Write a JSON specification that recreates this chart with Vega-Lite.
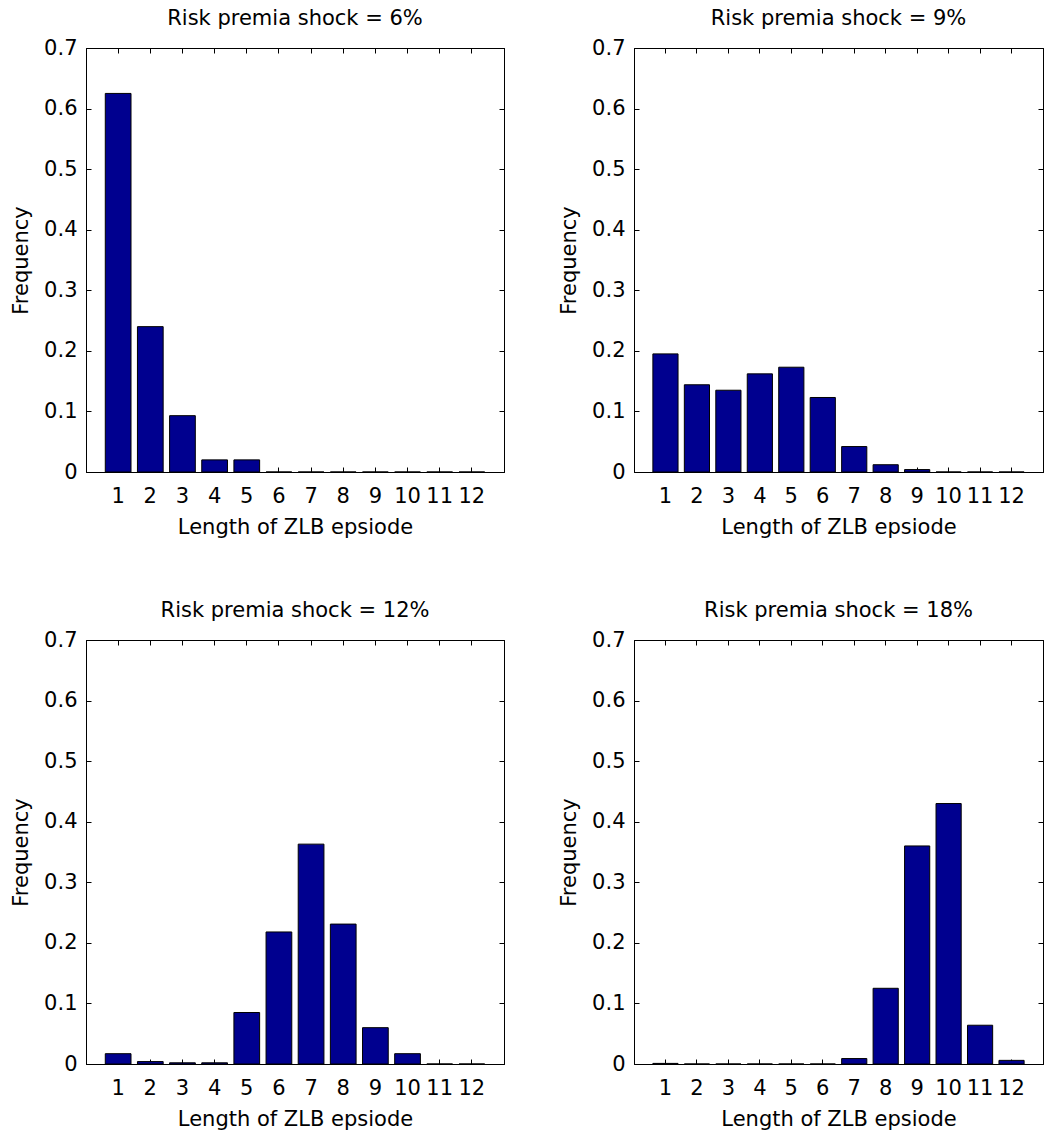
{
  "$schema": "https://vega.github.io/schema/vega-lite/v6.json",
  "background": "white",
  "padding": {"left": 10, "top": 7, "right": 0, "bottom": 0},
  "datasets": {
    "zlb": [
      {"shock": 6, "length": 1, "freq": 0.625},
      {"shock": 6, "length": 2, "freq": 0.24},
      {"shock": 6, "length": 3, "freq": 0.093},
      {"shock": 6, "length": 4, "freq": 0.02},
      {"shock": 6, "length": 5, "freq": 0.02},
      {"shock": 6, "length": 6, "freq": 0},
      {"shock": 6, "length": 7, "freq": 0},
      {"shock": 6, "length": 8, "freq": 0},
      {"shock": 6, "length": 9, "freq": 0},
      {"shock": 6, "length": 10, "freq": 0},
      {"shock": 6, "length": 11, "freq": 0},
      {"shock": 6, "length": 12, "freq": 0},
      {"shock": 9, "length": 1, "freq": 0.195},
      {"shock": 9, "length": 2, "freq": 0.144},
      {"shock": 9, "length": 3, "freq": 0.135},
      {"shock": 9, "length": 4, "freq": 0.162},
      {"shock": 9, "length": 5, "freq": 0.173},
      {"shock": 9, "length": 6, "freq": 0.123},
      {"shock": 9, "length": 7, "freq": 0.042},
      {"shock": 9, "length": 8, "freq": 0.012},
      {"shock": 9, "length": 9, "freq": 0.004},
      {"shock": 9, "length": 10, "freq": 0},
      {"shock": 9, "length": 11, "freq": 0},
      {"shock": 9, "length": 12, "freq": 0},
      {"shock": 12, "length": 1, "freq": 0.017},
      {"shock": 12, "length": 2, "freq": 0.004},
      {"shock": 12, "length": 3, "freq": 0.002},
      {"shock": 12, "length": 4, "freq": 0.002},
      {"shock": 12, "length": 5, "freq": 0.085},
      {"shock": 12, "length": 6, "freq": 0.218},
      {"shock": 12, "length": 7, "freq": 0.363},
      {"shock": 12, "length": 8, "freq": 0.231},
      {"shock": 12, "length": 9, "freq": 0.06},
      {"shock": 12, "length": 10, "freq": 0.017},
      {"shock": 12, "length": 11, "freq": 0},
      {"shock": 12, "length": 12, "freq": 0},
      {"shock": 18, "length": 1, "freq": 0.001},
      {"shock": 18, "length": 2, "freq": 0},
      {"shock": 18, "length": 3, "freq": 0},
      {"shock": 18, "length": 4, "freq": 0},
      {"shock": 18, "length": 5, "freq": 0},
      {"shock": 18, "length": 6, "freq": 0},
      {"shock": 18, "length": 7, "freq": 0.009},
      {"shock": 18, "length": 8, "freq": 0.125},
      {"shock": 18, "length": 9, "freq": 0.36},
      {"shock": 18, "length": 10, "freq": 0.43},
      {"shock": 18, "length": 11, "freq": 0.064},
      {"shock": 18, "length": 12, "freq": 0.006}
    ]
  },
  "vconcat": [
    {
      "hconcat": [
        {
          "width": 418, "height": 424,
          "title": "Risk premia shock = 6%",
          "data": {"name": "zlb"},
          "transform": [{"filter": "datum.shock == 6"}],
          "layer": [
            {
              "mark": {"type": "bar", "fill": "#00008f", "stroke": "#000", "strokeWidth": 1},
              "encoding": {
                "x": {"field": "length", "type": "ordinal", "scale": {"type": "band", "paddingInner": 0.2, "paddingOuter": 0.6},
                      "axis": {"orient": "bottom", "labelAngle": 0, "labelPadding": 18, "labelOverlap": false, "bandPosition": 0.5, "title": "Length of ZLB epsiode", "titlePadding": 10}},
                "y": {"field": "freq", "type": "quantitative", "scale": {"domain": [0, 0.7], "nice": false},
                      "axis": {"orient": "left", "values": [0, 0.1, 0.2, 0.3, 0.4, 0.5, 0.6, 0.7], "format": "~g", "labelPadding": 14, "title": "Frequency", "titlePadding": 12}}
              }
            },
            {
              "mark": {"type": "bar", "opacity": 0},
              "encoding": {
                "x": {"field": "length", "type": "ordinal", "axis": {"orient": "top", "labels": false, "title": null, "bandPosition": 0.5}},
                "y": {"field": "freq", "type": "quantitative", "axis": {"orient": "right", "labels": false, "title": null, "values": [0, 0.1, 0.2, 0.3, 0.4, 0.5, 0.6, 0.7]}}
              }
            }
          ],
          "resolve": {"axis": {"x": "independent", "y": "independent"}}
        },
        {
          "width": 409, "height": 424,
          "title": "Risk premia shock = 9%",
          "data": {"name": "zlb"},
          "transform": [{"filter": "datum.shock == 9"}],
          "layer": [
            {
              "mark": {"type": "bar", "fill": "#00008f", "stroke": "#000", "strokeWidth": 1},
              "encoding": {
                "x": {"field": "length", "type": "ordinal", "scale": {"type": "band", "paddingInner": 0.2, "paddingOuter": 0.6},
                      "axis": {"orient": "bottom", "labelAngle": 0, "labelPadding": 18, "labelOverlap": false, "bandPosition": 0.5, "title": "Length of ZLB epsiode", "titlePadding": 10}},
                "y": {"field": "freq", "type": "quantitative", "scale": {"domain": [0, 0.7], "nice": false},
                      "axis": {"orient": "left", "values": [0, 0.1, 0.2, 0.3, 0.4, 0.5, 0.6, 0.7], "format": "~g", "labelPadding": 14, "title": "Frequency", "titlePadding": 12}}
              }
            },
            {
              "mark": {"type": "bar", "opacity": 0},
              "encoding": {
                "x": {"field": "length", "type": "ordinal", "axis": {"orient": "top", "labels": false, "title": null, "bandPosition": 0.5}},
                "y": {"field": "freq", "type": "quantitative", "axis": {"orient": "right", "labels": false, "title": null, "values": [0, 0.1, 0.2, 0.3, 0.4, 0.5, 0.6, 0.7]}}
              }
            }
          ],
          "resolve": {"axis": {"x": "independent", "y": "independent"}}
        }
      ],
      "spacing": 53
    },
    {
      "hconcat": [
        {
          "width": 418, "height": 424,
          "title": "Risk premia shock = 12%",
          "data": {"name": "zlb"},
          "transform": [{"filter": "datum.shock == 12"}],
          "layer": [
            {
              "mark": {"type": "bar", "fill": "#00008f", "stroke": "#000", "strokeWidth": 1},
              "encoding": {
                "x": {"field": "length", "type": "ordinal", "scale": {"type": "band", "paddingInner": 0.2, "paddingOuter": 0.6},
                      "axis": {"orient": "bottom", "labelAngle": 0, "labelPadding": 18, "labelOverlap": false, "bandPosition": 0.5, "title": "Length of ZLB epsiode", "titlePadding": 10}},
                "y": {"field": "freq", "type": "quantitative", "scale": {"domain": [0, 0.7], "nice": false},
                      "axis": {"orient": "left", "values": [0, 0.1, 0.2, 0.3, 0.4, 0.5, 0.6, 0.7], "format": "~g", "labelPadding": 14, "title": "Frequency", "titlePadding": 12}}
              }
            },
            {
              "mark": {"type": "bar", "opacity": 0},
              "encoding": {
                "x": {"field": "length", "type": "ordinal", "axis": {"orient": "top", "labels": false, "title": null, "bandPosition": 0.5}},
                "y": {"field": "freq", "type": "quantitative", "axis": {"orient": "right", "labels": false, "title": null, "values": [0, 0.1, 0.2, 0.3, 0.4, 0.5, 0.6, 0.7]}}
              }
            }
          ],
          "resolve": {"axis": {"x": "independent", "y": "independent"}}
        },
        {
          "width": 409, "height": 424,
          "title": "Risk premia shock = 18%",
          "data": {"name": "zlb"},
          "transform": [{"filter": "datum.shock == 18"}],
          "layer": [
            {
              "mark": {"type": "bar", "fill": "#00008f", "stroke": "#000", "strokeWidth": 1},
              "encoding": {
                "x": {"field": "length", "type": "ordinal", "scale": {"type": "band", "paddingInner": 0.2, "paddingOuter": 0.6},
                      "axis": {"orient": "bottom", "labelAngle": 0, "labelPadding": 18, "labelOverlap": false, "bandPosition": 0.5, "title": "Length of ZLB epsiode", "titlePadding": 10}},
                "y": {"field": "freq", "type": "quantitative", "scale": {"domain": [0, 0.7], "nice": false},
                      "axis": {"orient": "left", "values": [0, 0.1, 0.2, 0.3, 0.4, 0.5, 0.6, 0.7], "format": "~g", "labelPadding": 14, "title": "Frequency", "titlePadding": 12}}
              }
            },
            {
              "mark": {"type": "bar", "opacity": 0},
              "encoding": {
                "x": {"field": "length", "type": "ordinal", "axis": {"orient": "top", "labels": false, "title": null, "bandPosition": 0.5}},
                "y": {"field": "freq", "type": "quantitative", "axis": {"orient": "right", "labels": false, "title": null, "values": [0, 0.1, 0.2, 0.3, 0.4, 0.5, 0.6, 0.7]}}
              }
            }
          ],
          "resolve": {"axis": {"x": "independent", "y": "independent"}}
        }
      ],
      "spacing": 53
    }
  ],
  "spacing": 61,
  "config": {
    "font": "DejaVu Sans",
    "view": {"stroke": "#000", "strokeWidth": 1},
    "axis": {
      "grid": false,
      "domainColor": "#000",
      "domainWidth": 1,
      "tickColor": "#000",
      "tickSize": -5,
      "tickWidth": 1,
      "labelColor": "#000",
      "labelFont": "DejaVu Sans",
      "labelFontSize": 21,
      "titleColor": "#000",
      "titleFont": "DejaVu Sans",
      "titleFontSize": 21,
      "titleFontWeight": "normal"
    },
    "title": {"font": "DejaVu Sans", "fontSize": 21, "fontWeight": "normal", "color": "#000", "frame": "group", "offset": 8}
  }
}
